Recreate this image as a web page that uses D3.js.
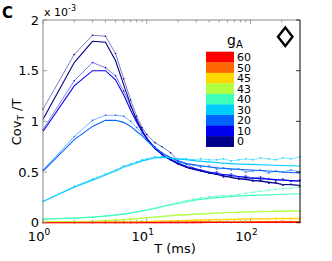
<!DOCTYPE html>
<html>
<head>
<meta charset="utf-8">
<script src="https://cdn.jsdelivr.net/npm/d3@7"></script>
<style>
  body { margin: 0; background: #fff; }
  svg { display: block; font-family: "DejaVu Sans", sans-serif; }
</style>
</head>
<body>
<svg id="chart" width="332" height="261"></svg>
<script>
// gA values (legend order, bottom to top)
var gaLabels = ["0", "10", "20", "30", "40", "43", "45", "50", "60"];
var gaColors = ["#00008c", "#0000f0", "#0064ff", "#00ccff", "#40ffb8", "#b0ff40", "#ffd700", "#ff6600", "#ff0000"];

// T (ms) grids
var tTheory = [1, 2, 3, 4, 5, 6, 7, 8, 9, 10, 12, 15, 20, 25, 30, 40, 50, 70, 100, 150, 200, 300];
var tSim = [1, 2, 3, 4, 5, 6, 7, 8, 9, 10, 12, 14, 17, 20, 24, 28, 33, 40, 47, 55, 65, 77, 90, 105, 125, 150, 175, 205, 245, 300];

// Cov_T / T (x 1e-3), smooth curves
var theory0 = [1.02, 1.58, 1.79, 1.78, 1.60, 1.36, 1.16, 1.01, 0.91, 0.83, 0.73, 0.65, 0.58, 0.54, 0.52, 0.49, 0.47, 0.44, 0.42, 0.40, 0.38, 0.37];
var theory10 = [0.90, 1.35, 1.50, 1.50, 1.41, 1.26, 1.11, 0.99, 0.90, 0.83, 0.73, 0.65, 0.59, 0.55, 0.53, 0.50, 0.48, 0.46, 0.44, 0.43, 0.42, 0.41];
var theory20 = [0.51, 0.82, 0.95, 1.01, 1.01, 0.99, 0.95, 0.90, 0.86, 0.81, 0.74, 0.67, 0.61, 0.58, 0.57, 0.55, 0.54, 0.53, 0.52, 0.51, 0.50, 0.49];
var theory30 = [0.21, 0.35, 0.42, 0.47, 0.51, 0.55, 0.57, 0.59, 0.61, 0.62, 0.64, 0.645, 0.63, 0.62, 0.61, 0.60, 0.59, 0.58, 0.575, 0.57, 0.565, 0.56];
var theory40 = [0.035, 0.045, 0.055, 0.065, 0.075, 0.085, 0.095, 0.105, 0.115, 0.125, 0.14, 0.165, 0.19, 0.21, 0.225, 0.24, 0.25, 0.26, 0.27, 0.275, 0.28, 0.285];
var theory43 = [0.01, 0.012, 0.015, 0.02, 0.025, 0.03, 0.035, 0.04, 0.045, 0.05, 0.055, 0.065, 0.075, 0.08, 0.085, 0.09, 0.095, 0.1, 0.105, 0.11, 0.112, 0.115];
var theory45 = [0.003, 0.004, 0.005, 0.006, 0.007, 0.008, 0.009, 0.01, 0.011, 0.012, 0.014, 0.017, 0.02, 0.023, 0.025, 0.028, 0.03, 0.033, 0.036, 0.038, 0.04, 0.04];
var theory50 = [0.002, 0.002, 0.003, 0.003, 0.003, 0.004, 0.004, 0.004, 0.005, 0.005, 0.005, 0.006, 0.007, 0.007, 0.008, 0.009, 0.009, 0.01, 0.011, 0.011, 0.012, 0.012];
var theory60 = [0, 0, 0, 0, 0, 0, 0, 0, 0.001, 0.001, 0.001, 0.001, 0.001, 0.001, 0.001, 0.002, 0.002, 0.002, 0.002, 0.003, 0.003, 0.003];

// simulated curves (with markers)
var sim0 = [1.12, 1.66, 1.85, 1.84, 1.67, 1.42, 1.21, 1.05, 0.94, 0.87, 0.79, 0.75, 0.69, 0.61, 0.58, 0.54, 0.52, 0.49, 0.48, 0.45, 0.46, 0.43, 0.44, 0.41, 0.42, 0.39, 0.40, 0.37, 0.38, 0.36];
var sim10 = [0.92, 1.40, 1.58, 1.53, 1.45, 1.30, 1.15, 1.02, 0.92, 0.84, 0.74, 0.67, 0.62, 0.58, 0.55, 0.53, 0.51, 0.49, 0.50, 0.47, 0.48, 0.45, 0.46, 0.44, 0.45, 0.43, 0.42, 0.43, 0.41, 0.42];
var sim20 = [0.52, 0.85, 1.01, 1.06, 1.06, 1.05, 1.00, 0.94, 0.88, 0.83, 0.75, 0.69, 0.64, 0.60, 0.58, 0.57, 0.55, 0.56, 0.53, 0.54, 0.52, 0.53, 0.50, 0.51, 0.52, 0.49, 0.51, 0.50, 0.52, 0.50];
var sim30 = [0.21, 0.36, 0.43, 0.48, 0.52, 0.56, 0.58, 0.60, 0.62, 0.63, 0.65, 0.65, 0.64, 0.63, 0.63, 0.62, 0.63, 0.62, 0.62, 0.63, 0.61, 0.62, 0.63, 0.62, 0.64, 0.63, 0.62, 0.64, 0.63, 0.65];
var sim40 = [0.037, 0.047, 0.057, 0.068, 0.078, 0.088, 0.098, 0.108, 0.118, 0.128, 0.145, 0.16, 0.18, 0.2, 0.215, 0.23, 0.245, 0.255, 0.26, 0.265, 0.27, 0.28, 0.29, 0.30, 0.31, 0.32, 0.33, 0.335, 0.34, 0.35];
var sim43 = [0.01, 0.013, 0.016, 0.02, 0.025, 0.03, 0.034, 0.038, 0.043, 0.047, 0.054, 0.06, 0.068, 0.074, 0.079, 0.083, 0.087, 0.091, 0.095, 0.099, 0.102, 0.105, 0.108, 0.11, 0.112, 0.113, 0.115, 0.116, 0.117, 0.118];
var sim45 = [0.003, 0.004, 0.005, 0.006, 0.007, 0.008, 0.009, 0.01, 0.011, 0.012, 0.014, 0.016, 0.018, 0.02, 0.022, 0.024, 0.026, 0.028, 0.03, 0.032, 0.034, 0.036, 0.038, 0.04, 0.041, 0.042, 0.043, 0.044, 0.045, 0.046];
var sim50 = [0.002, 0.002, 0.003, 0.003, 0.003, 0.004, 0.004, 0.004, 0.005, 0.005, 0.005, 0.006, 0.006, 0.007, 0.007, 0.008, 0.008, 0.009, 0.009, 0.01, 0.01, 0.011, 0.011, 0.012, 0.012, 0.012, 0.013, 0.013, 0.013, 0.013];
var sim60 = [0, 0, 0, 0, 0, 0, 0, 0, 0.001, 0.001, 0.001, 0.001, 0.001, 0.001, 0.001, 0.001, 0.002, 0.002, 0.002, 0.002, 0.002, 0.002, 0.002, 0.003, 0.003, 0.003, 0.003, 0.003, 0.003, 0.003];

var theoryCurves = [theory0, theory10, theory20, theory30, theory40, theory43, theory45, theory50, theory60];
var simCurves = [sim0, sim10, sim20, sim30, sim40, sim43, sim45, sim50, sim60];

var yTickValues = [0, 0.5, 1, 1.5, 2];
var yTickLabels = ["0", "0.5", "1", "1.5", "2"];
var xDecades = [1, 10, 100];

(function() {
  var svg = d3.select("#chart"),
      pLeft = 43, pRight = 300, pTop = 20, pBottom = 222.7;

  var x = d3.scaleLog().domain([1, 300]).range([pLeft, pRight]);
  var y = d3.scaleLinear().domain([0, 2]).range([pBottom, pTop]);

  var line = function(ts) {
    return d3.line()
      .x(function(d, i) { return x(ts[i]); })
      .y(function(d) { return y(d); });
  };

  var plot = svg.append("g");

  // draw curves, gA = 0 first
  simCurves.forEach(function(vals, k) {
    plot.append("path")
        .attr("d", line(tSim)(vals))
        .attr("fill", "none")
        .attr("stroke", gaColors[k])
        .attr("stroke-width", 0.6)
        .attr("stroke-opacity", 0.85);
    plot.append("g").selectAll("circle")
      .data(vals)
      .enter().append("circle")
        .attr("cx", function(d, i) { return x(tSim[i]); })
        .attr("cy", function(d) { return y(d); })
        .attr("r", 0.8)
        .attr("fill", gaColors[k]);
  });
  theoryCurves.forEach(function(vals, k) {
    plot.append("path")
        .attr("d", line(tTheory)(vals))
        .attr("fill", "none")
        .attr("stroke", gaColors[k])
        .attr("stroke-width", 1.1);
  });

  // axes box
  svg.append("line").attr("x1", pLeft).attr("x2", pLeft).attr("y1", pTop).attr("y2", pBottom).attr("stroke", "#888");
  svg.append("line").attr("x1", pLeft).attr("x2", pRight).attr("y1", pTop).attr("y2", pTop).attr("stroke", "#888");
  svg.append("line").attr("x1", pRight).attr("x2", pRight).attr("y1", pTop).attr("y2", pBottom).attr("stroke", "#000");

  // ticks (major + minor, inward)
  var tickG = svg.append("g").attr("stroke", "#888").attr("stroke-width", 0.8);
  x.ticks().forEach(function(t) {
    var len = xDecades.indexOf(t) >= 0 ? 4 : 2.5;
    tickG.append("line").attr("x1", x(t)).attr("x2", x(t)).attr("y1", pBottom).attr("y2", pBottom - len);
    tickG.append("line").attr("x1", x(t)).attr("x2", x(t)).attr("y1", pTop).attr("y2", pTop + len);
  });
  yTickValues.forEach(function(v) {
    tickG.append("line").attr("x1", pLeft).attr("x2", pLeft + 4).attr("y1", y(v)).attr("y2", y(v));
    tickG.append("line").attr("x1", pRight).attr("x2", pRight - 4).attr("y1", y(v)).attr("y2", y(v)).attr("stroke", "#000");
  });

  // y tick labels
  svg.append("g").selectAll("text")
    .data(yTickValues)
    .enter().append("text")
      .attr("x", 39)
      .attr("y", function(d) { return y(d); })
      .attr("dy", "0.36em")
      .attr("text-anchor", "end")
      .attr("font-size", 13)
      .text(function(d, i) { return yTickLabels[i]; });

  // x tick labels 10^n
  xDecades.forEach(function(t, i) {
    var tx = svg.append("text")
        .attr("x", x(t) - 4)
        .attr("y", 241)
        .attr("text-anchor", "middle")
        .attr("font-size", 13);
    tx.append("tspan").text("10");
    tx.append("tspan").attr("dy", -6).attr("font-size", 9).text(String(i));
  });

  svg.append("text")
      .attr("x", 175).attr("y", 253)
      .attr("text-anchor", "middle")
      .attr("font-size", 13)
      .text("T (ms)");

  // y label
  var yl = svg.append("text")
      .attr("transform", "translate(21,122) rotate(-90)")
      .attr("text-anchor", "middle")
      .attr("font-size", 13);
  yl.append("tspan").text("Cov");
  yl.append("tspan").attr("dy", 3).attr("font-size", 9).text("T");
  yl.append("tspan").attr("dy", -3).text(" /T");

  // exponent
  var ex = svg.append("text")
      .attr("x", 44).attr("y", 16)
      .attr("font-size", 11);
  ex.append("tspan").text("x 10");
  ex.append("tspan").attr("dy", -5).attr("font-size", 8).text("-3");

  // panel letter
  svg.append("text")
      .attr("x", 2).attr("y", 18)
      .attr("font-size", 15)
      .attr("font-weight", "bold")
      .text("C");

  // legend
  var legTop = 51.7, boxH = 10.55;
  var legend = svg.append("g").selectAll("g")
    .data(gaLabels.slice().reverse())
    .enter().append("g")
      .attr("transform", function(d, i) { return "translate(206," + (legTop + i * boxH) + ")"; });

  legend.append("rect")
      .attr("width", 28)
      .attr("height", boxH + 0.3)
      .attr("fill", function(d) { return gaColors[gaLabels.indexOf(d)]; });

  legend.append("text")
      .attr("x", 31)
      .attr("y", boxH / 2)
      .attr("dy", "0.36em")
      .attr("font-size", 11)
      .text(function(d) { return d; });

  var lt = svg.append("text")
      .attr("x", 227).attr("y", 45)
      .attr("font-size", 14);
  lt.append("tspan").text("g");
  lt.append("tspan").attr("dy", 3).attr("font-size", 10).text("A");

  // diamond marker
  svg.append("path")
      .attr("d", "M285.3,27.5 L292.5,36.7 L285.3,46 L278,36.7 Z")
      .attr("fill", "none")
      .attr("stroke", "#000")
      .attr("stroke-width", 2.4);
})();
</script>
</body>
</html>
